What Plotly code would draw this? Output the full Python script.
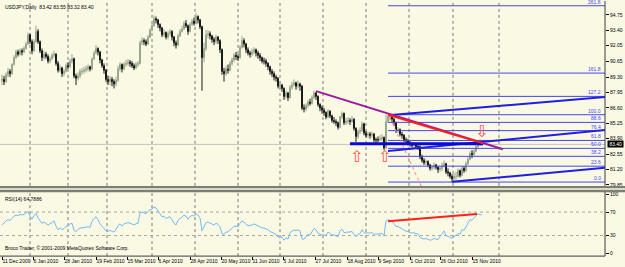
import plotly.graph_objects as go

# ---------------- data ----------------
closes = [
    89.1, 88.9, 89.5, 89.8, 89.6, 90.4, 91.0, 91.5, 91.3, 91.6,
    91.5, 91.8, 92.2, 93.0, 92.4, 91.6, 92.4, 93.3, 92.4, 91.6,
    91.0, 91.3, 91.1, 90.7, 90.9, 91.2, 91.3, 90.5, 89.9, 90.1,
    89.6, 89.8, 90.3, 90.2, 90.7, 90.9, 89.4, 89.2, 89.4, 89.8,
    89.8, 89.9, 90.0, 90.2, 90.0, 90.9, 91.4, 91.8, 91.5, 90.8,
    90.3, 89.9, 89.1, 88.9, 89.1, 88.9, 88.7, 89.0, 90.0, 90.4,
    90.0, 90.4, 90.5, 90.6, 90.5, 90.3, 90.1, 90.4, 90.5, 92.3,
    92.5, 92.4, 92.2, 92.8, 93.4, 93.8, 94.4, 94.3, 93.9, 93.6,
    93.0, 93.2, 92.8, 93.1, 93.3, 92.8, 92.3, 92.1, 92.9, 93.3,
    93.5, 94.0, 93.8, 93.3, 93.9, 94.2, 94.0, 94.6, 94.3, 93.7,
    91.0, 91.8, 93.0, 93.1, 92.9, 92.6, 92.4, 92.8, 92.5, 91.7,
    89.8, 89.6, 90.0, 89.9, 90.5, 90.8, 91.2, 91.1, 91.0, 91.9,
    92.5, 92.2, 91.7, 91.4, 91.3, 91.5, 91.7, 91.4, 91.2, 91.0,
    90.7, 90.7, 90.5, 90.2, 89.8, 89.6, 89.3, 89.2, 88.5, 88.6,
    88.3, 87.6, 87.9, 87.5, 88.4, 88.6, 88.8, 88.5, 88.7, 88.5,
    86.6, 86.5, 86.8, 87.1, 87.0, 87.5, 87.9, 87.6, 86.9, 86.6,
    86.4, 86.2, 85.8, 86.3, 85.9, 85.5, 85.4, 85.3, 84.9, 85.8,
    86.1, 85.3, 85.4, 85.5, 85.4, 85.6, 84.8, 84.1, 84.5, 84.6,
    85.2, 84.4, 84.2, 84.3, 84.2, 84.3, 83.8, 83.8, 83.8, 83.9,
    84.0, 83.1, 85.4, 85.8, 85.8, 85.6, 85.3, 84.6, 84.7, 84.3,
    84.2, 83.8, 83.7, 83.5, 83.4, 83.3, 83.4, 83.2, 83.2, 82.3,
    82.0, 81.8, 81.9, 81.6, 81.3, 81.4, 81.6, 81.4, 81.2, 81.3,
    81.5, 81.7, 81.0, 80.9, 80.6, 80.4, 80.6, 80.6, 81.1, 80.7,
    81.3, 81.1, 81.7, 82.1, 82.6, 82.5, 82.8, 83.2, 83.5, 83.42,
    83.40,
]
highs = [
    89.5, 89.4, 89.7, 90.1, 90.0, 90.5, 91.2, 91.7, 91.7, 91.8,
    91.8, 92.0, 92.4, 93.2, 93.1, 92.6, 92.6, 93.8, 93.5, 92.5,
    91.8, 91.6, 91.5, 91.3, 91.1, 91.4, 91.6, 91.4, 90.7, 90.4,
    90.2, 90.0, 90.5, 90.6, 90.9, 91.3, 91.0, 89.6, 89.7, 90.0,
    90.1, 90.2, 90.3, 90.4, 90.3, 91.0, 91.6, 92.1, 91.9, 91.6,
    90.9, 90.5, 90.0, 89.4, 89.4, 89.3, 89.1, 89.3, 90.3, 90.6,
    90.5, 90.6, 90.8, 90.9, 90.8, 90.7, 90.5, 90.6, 90.7, 92.5,
    92.8, 92.7, 92.6, 93.0, 93.6, 94.0, 94.7, 94.6, 94.4, 94.0,
    93.7, 93.5, 93.3, 93.3, 93.5, 93.4, 92.9, 92.5, 93.1, 93.5,
    93.8, 94.2, 94.3, 93.9, 94.1, 94.4, 94.5, 94.9, 94.7, 94.4,
    93.8, 92.3, 93.4, 93.4, 93.3, 93.0, 92.8, 93.0, 92.9, 92.6,
    91.8, 90.1, 90.3, 90.4, 90.7, 91.0, 91.4, 91.5, 91.3, 92.1,
    92.9, 92.7, 92.3, 91.9, 91.6, 91.8, 91.9, 91.8, 91.6, 91.4,
    91.1, 91.0, 90.9, 90.6, 90.3, 90.0, 89.8, 89.5, 89.3, 88.9,
    88.7, 88.4, 88.1, 88.0, 88.6, 88.9, 89.1, 88.9, 89.0, 88.8,
    88.6, 86.9, 87.0, 87.3, 87.4, 87.7, 88.1, 88.0, 87.7, 87.0,
    86.8, 86.6, 86.3, 86.5, 86.4, 86.0, 85.8, 85.6, 85.4, 85.9,
    86.3, 86.2, 85.7, 85.8, 85.7, 85.9, 85.7, 84.9, 84.7, 84.9,
    85.4, 85.3, 84.6, 84.5, 84.5, 84.5, 84.4, 84.0, 84.1, 84.2,
    84.3, 84.1, 86.0, 86.0, 86.0, 85.9, 85.7, 85.4, 84.9, 84.8,
    84.5, 84.3, 84.0, 83.9, 83.7, 83.6, 83.6, 83.5, 83.4, 83.3,
    82.5, 82.2, 82.1, 82.0, 81.7, 81.6, 81.8, 81.7, 81.5, 81.5,
    81.8, 82.0, 81.8, 81.3, 81.0, 80.8, 80.9, 81.0, 81.3, 81.2,
    81.5, 81.5, 81.9, 82.3, 82.8, 82.9, 83.0, 83.4, 83.7, 83.8,
    83.55,
]
lows = [
    88.6, 88.6, 88.8, 89.3, 89.3, 89.5, 90.3, 90.9, 91.1, 91.2,
    91.2, 91.4, 91.7, 92.1, 92.2, 91.3, 91.5, 92.3, 92.2, 91.4,
    90.7, 90.8, 90.9, 90.5, 90.5, 90.8, 91.0, 90.3, 89.7, 89.7,
    89.3, 89.4, 89.7, 90.0, 90.1, 90.5, 89.2, 88.6, 89.0, 89.2,
    89.5, 89.6, 89.7, 89.8, 89.8, 89.9, 90.8, 91.3, 91.2, 90.5,
    90.1, 89.6, 88.9, 88.6, 88.6, 88.5, 88.3, 88.5, 88.9, 89.8,
    89.7, 89.9, 90.2, 90.3, 90.2, 90.1, 89.9, 90.0, 90.2, 90.4,
    92.1, 92.1, 92.0, 92.1, 92.7, 93.3, 93.7, 94.0, 93.6, 93.3,
    92.8, 92.8, 92.6, 92.6, 92.9, 92.5, 92.0, 91.8, 92.0, 92.8,
    93.2, 93.4, 93.6, 93.0, 93.2, 93.8, 93.8, 93.9, 94.0, 93.5,
    88.1, 90.6, 91.6, 92.7, 92.6, 92.3, 92.1, 92.2, 92.2, 91.4,
    89.5, 88.9, 89.4, 89.6, 89.8, 90.3, 90.6, 90.8, 90.7, 90.9,
    91.8, 91.9, 91.4, 91.2, 91.0, 91.1, 91.3, 91.1, 90.9, 90.7,
    90.5, 90.4, 90.2, 89.9, 89.5, 89.3, 89.0, 88.9, 88.3, 88.2,
    88.0, 87.3, 87.4, 87.2, 87.4, 88.2, 88.5, 88.2, 88.3, 88.1,
    86.4, 86.2, 86.3, 86.6, 86.8, 86.9, 87.4, 87.3, 86.7, 86.3,
    86.1, 85.9, 85.6, 85.7, 85.7, 85.3, 85.2, 85.0, 84.7, 84.8,
    85.6, 85.1, 85.1, 85.2, 85.1, 85.3, 84.6, 83.6, 83.9, 84.3,
    84.5, 84.2, 84.0, 84.0, 83.9, 84.0, 83.6, 83.5, 83.6, 83.7,
    83.7, 82.9, 83.0, 85.3, 85.5, 85.3, 85.0, 84.4, 84.4, 84.1,
    83.9, 83.6, 83.5, 83.3, 83.2, 83.1, 83.1, 83.0, 82.9, 82.1,
    81.8, 81.6, 81.6, 81.4, 81.1, 81.1, 81.2, 81.2, 80.9, 81.0,
    81.1, 81.4, 80.8, 80.6, 80.4, 80.1, 80.2, 80.3, 80.5, 80.5,
    80.6, 80.9, 81.0, 81.6, 82.0, 82.2, 82.4, 82.7, 83.1, 83.3,
    83.32,
]
first_open = 89.0

rsi = [
    48, 52, 55, 57, 56, 59, 63, 65, 64, 66,
    65, 66, 68, 71, 63, 58, 64, 68, 60, 55,
    51, 53, 50, 48, 50, 53, 55, 46, 40, 43,
    40, 42, 46, 46, 50, 51, 39, 37, 40, 43,
    43, 44, 44, 45, 44, 54, 59, 62, 57, 50,
    46, 42, 38, 37, 39, 37, 36, 40, 47, 50,
    46, 50, 51, 52, 51, 49, 48, 50, 51, 68,
    70, 69, 67, 71, 74, 75, 79, 77, 72, 68,
    62, 63, 59, 61, 62, 57, 51, 48, 56, 59,
    61, 65, 63, 58, 62, 65, 63, 67, 65, 60,
    38, 44, 52, 53, 51, 50, 48, 51, 49, 45,
    33, 32, 36, 36, 40, 42, 46, 46, 45, 51,
    55, 53, 49, 47, 47, 48, 50, 48, 46, 45,
    43, 43, 42, 40, 37, 35, 33, 32, 27, 29,
    27, 22, 26, 24, 35, 38, 40, 38, 40, 38,
    24, 24, 28, 32, 31, 37, 42, 40, 34, 32,
    31, 30, 30, 36, 33, 31, 31, 30, 28, 38,
    41, 35, 36, 36, 36, 37, 32, 28, 32, 33,
    40, 35, 34, 35, 34, 35, 32, 32, 32, 33,
    34, 29, 55, 57, 56, 54, 51, 45, 46, 43,
    42, 39, 38, 36, 35, 34, 35, 33, 33, 27,
    25, 24, 25, 23, 22, 23, 25, 24, 23, 28,
    33, 38, 30, 29, 27, 25, 29, 30, 34, 32,
    40, 39, 46, 51, 57, 56, 60, 64, 67, 66,
    64.79,
]

price_ticks = [94.75, 93.40, 92.05, 90.65, 89.30, 87.95, 86.60, 85.25, 83.90, 82.55, 81.20, 79.85]
rsi_ticks = [0, 30, 70, 100]
date_labels = ["11 Dec 2009", "6 Jan 2010", "28 Jan 2010", "19 Feb 2010", "15 Mar 2010",
               "6 Apr 2010", "28 Apr 2010", "20 May 2010", "11 Jun 2010", "5 Jul 2010",
               "27 Jul 2010", "18 Aug 2010", "9 Sep 2010", "1 Oct 2010", "26 Oct 2010",
               "15 Nov 2010"]
date_label_bars = [0, 15.5, 31, 47, 62.5, 78, 94, 109.5, 125, 140.5, 156.5, 172.5, 188, 204, 219, 235]
month_grid_bars = [14, 33, 52.5, 75, 96.5, 118, 139, 160.5, 182, 203.5, 225.5, 248.5]

fib_low, fib_high, fib_start_bar = 80.10, 86.00, 193
fib_levels = [0.0, 23.6, 38.2, 50.0, 61.8, 76.4, 88.6, 100.0, 127.2, 161.8, 261.8]

# trend lines: (bar0, price0, bar1, price1)
channel_lines = [(193, 85.95, 301.5, 87.55), (193, 82.82, 301.5, 84.66), (225, 80.12, 301.5, 81.35)]
purple_line = (157, 88.07, 250.5, 82.97)
red_line = (193, 86.0, 240.5, 83.49)
red_dotted = (194, 85.74, 210, 79.6)
support_line = (174, 83.45, 240.5, 83.45)
rsi_red_line = (193, 54.5, 237.5, 66.9)
up_arrows = [(177, 82.36), (191, 82.36)]
down_arrows = [(239.5, 84.55)]
bid_price = 83.40
header_text = "USDJPY,Daily  83.42 83.55 83.32 83.40"
rsi_text = "RSI(14) 64.7886"
copyright_text = "Broco Trader, \u00a9 2001-2009 MetaQuotes Software Corp."

# ---------------- geometry ----------------
W, H = 625, 267
BG = "#F9F9E4"
XR = [-1, 301.5]
PLOT_R = 605
MAIN_TOP, MAIN_BOT = 0, 187
RSI_TOP, RSI_BOT = 193, 258
PRICE_RANGE = [95.963 - MAIN_BOT / 11.544, 95.963]
RSI_RANGE = [-(RSI_BOT - 255) / 0.593, 100 + (195.7 - RSI_TOP) / 0.593]


def py(p):
    return 1 - p / H


def px(p):
    return p / W


bars = list(range(len(closes)))
opens = [first_open] + closes[:-1]
highs_c = [max(h, o, c) for h, o, c in zip(highs, opens, closes)]
lows_c = [min(l, o, c) for l, o, c in zip(lows, opens, closes)]

fig = go.Figure()

fig.add_trace(go.Candlestick(
    x=bars, open=opens, high=highs_c, low=lows_c, close=closes,
    increasing=dict(line=dict(color="#98A68C", width=1), fillcolor="#B4C0AA"),
    decreasing=dict(line=dict(color="#1A1A1A", width=1), fillcolor="#1A1A1A"),
    whiskerwidth=0, hoverinfo="skip", xaxis="x", yaxis="y"))

FIB_COLOR = "#4646F0"
for lv in fib_levels:
    p = fib_low + (fib_high - fib_low) * lv / 100.0
    fig.add_trace(go.Scatter(x=[fib_start_bar, XR[1]], y=[p, p], mode="lines",
                             line=dict(color=FIB_COLOR, width=1), hoverinfo="skip"))
    fig.add_annotation(x=px(603), xref="paper", y=p, yref="y", text="%.1f" % lv,
                       showarrow=False, xanchor="right", yanchor="bottom", yshift=-1,
                       font=dict(size=5, color=FIB_COLOR, family="Liberation Sans"))

for (b0, p0, b1, p1) in channel_lines:
    fig.add_trace(go.Scatter(x=[b0, b1], y=[p0, p1], mode="lines",
                             line=dict(color="#1E1EE6", width=2), hoverinfo="skip"))

fig.add_trace(go.Scatter(x=[support_line[0], support_line[2]], y=[support_line[1], support_line[3]],
                         mode="lines", line=dict(color="#0A0AD2", width=3), hoverinfo="skip"))
fig.add_trace(go.Scatter(x=[red_dotted[0], red_dotted[2]], y=[red_dotted[1], red_dotted[3]],
                         mode="lines", line=dict(color="#FF8080", width=1, dash="dot"), hoverinfo="skip"))
fig.add_trace(go.Scatter(x=[purple_line[0], purple_line[2]], y=[purple_line[1], purple_line[3]],
                         mode="lines", line=dict(color="#9C1A9C", width=2), hoverinfo="skip"))
fig.add_trace(go.Scatter(x=[red_line[0], red_line[2]], y=[red_line[1], red_line[3]],
                         mode="lines", line=dict(color="#FF1E1E", width=2), hoverinfo="skip"))

# RSI
fig.add_trace(go.Scatter(x=bars, y=rsi, mode="lines", line=dict(color="#74BAF4", width=1),
                         hoverinfo="skip", xaxis="x2", yaxis="y2"))
fig.add_trace(go.Scatter(x=[rsi_red_line[0], rsi_red_line[2]], y=[rsi_red_line[1], rsi_red_line[3]],
                         mode="lines", line=dict(color="#FF2020", width=2), hoverinfo="skip",
                         xaxis="x2", yaxis="y2"))

for (b, p) in up_arrows:
    fig.add_annotation(x=b, y=p, xref="x", yref="y", text="\u21e7", showarrow=False,
                       font=dict(size=16, color="#FF5050", family="DejaVu Sans"))
for (b, p) in down_arrows:
    fig.add_annotation(x=b, y=p, xref="x", yref="y", text="\u21e9", showarrow=False,
                       font=dict(size=16, color="#FF5050", family="DejaVu Sans"))

shapes = []
GRID = "#7C7C74"
for gb in month_grid_bars:
    shapes.append(dict(type="line", xref="x", yref="paper", x0=gb, x1=gb, y0=py(MAIN_BOT), y1=py(MAIN_TOP),
                       line=dict(color=GRID, width=1, dash="dot"), layer="below"))
    shapes.append(dict(type="line", xref="x", yref="paper", x0=gb, x1=gb, y0=py(RSI_BOT), y1=py(RSI_TOP),
                       line=dict(color=GRID, width=1, dash="dot"), layer="below"))
for lv in [30, 70]:
    shapes.append(dict(type="line", xref="paper", yref="y2", x0=0, x1=px(PLOT_R), y0=lv, y1=lv,
                       line=dict(color="#A8A89C", width=1, dash="dot"), layer="below"))
# bid line
shapes.append(dict(type="line", xref="paper", yref="y", x0=0, x1=px(PLOT_R), y0=bid_price, y1=bid_price,
                   line=dict(color="#C4C4BC", width=1), layer="below"))
# separators
SEP = "#7E7E72"
shapes.append(dict(type="rect", xref="paper", yref="paper", x0=0, x1=1, y0=py(189.5), y1=py(187),
                   fillcolor=SEP, line=dict(width=0)))
shapes.append(dict(type="rect", xref="paper", yref="paper", x0=0, x1=1, y0=py(193.5), y1=py(191),
                   fillcolor=SEP, line=dict(width=0)))
# axis frame lines
shapes.append(dict(type="line", xref="paper", yref="paper", x0=px(PLOT_R), x1=px(PLOT_R), y0=py(MAIN_BOT), y1=1,
                   line=dict(color="#3C3C3C", width=1)))
shapes.append(dict(type="line", xref="paper", yref="paper", x0=px(PLOT_R), x1=px(PLOT_R), y0=py(RSI_BOT), y1=py(RSI_TOP),
                   line=dict(color="#3C3C3C", width=1)))
shapes.append(dict(type="line", xref="paper", yref="paper", x0=0, x1=px(PLOT_R), y0=py(RSI_BOT), y1=py(RSI_BOT),
                   line=dict(color="#3C3C3C", width=1)))

TXT = dict(size=5, color="#000000", family="Liberation Sans")
fig.add_annotation(x=px(3), y=py(1), xref="paper", yref="paper", text=header_text, showarrow=False,
                   xanchor="left", yanchor="top", font=TXT)
fig.add_annotation(x=px(3), y=py(195), xref="paper", yref="paper", text=rsi_text, showarrow=False,
                   xanchor="left", yanchor="top", font=TXT)
fig.add_annotation(x=px(3), y=py(255), xref="paper", yref="paper", text=copyright_text, showarrow=False,
                   xanchor="left", yanchor="bottom", font=TXT)
fig.add_annotation(x=px(607), y=bid_price, xref="paper", yref="y", text=" %.2f " % bid_price, showarrow=False,
                   xanchor="left", yanchor="middle", bgcolor="#000000", borderpad=0,
                   font=dict(size=5, color="#FFFFFF", family="Liberation Sans"))

fig.update_layout(
    width=W, height=H, margin=dict(l=0, r=0, t=0, b=0),
    paper_bgcolor=BG, plot_bgcolor=BG, showlegend=False, shapes=shapes,
    xaxis=dict(domain=[0, px(PLOT_R)], range=XR, visible=False, rangeslider=dict(visible=False),
               showgrid=False, zeroline=False),
    yaxis=dict(domain=[py(MAIN_BOT), py(MAIN_TOP)], range=PRICE_RANGE, side="right", anchor="x",
               tickvals=price_ticks, ticktext=["%.2f" % t for t in price_ticks],
               ticks="outside", ticklen=3, tickcolor="#000000", tickfont=TXT,
               showgrid=False, zeroline=False, showline=False),
    xaxis2=dict(domain=[0, px(PLOT_R)], range=XR, anchor="y2", tickvals=date_label_bars, ticktext=date_labels,
                ticks="outside", ticklen=3, tickcolor="#000000", tickfont=TXT, tickangle=0,
                ticklabelposition="outside right",
                showgrid=False, zeroline=False, showline=False),
    yaxis2=dict(domain=[py(RSI_BOT), py(RSI_TOP)], range=RSI_RANGE, side="right", anchor="x2",
                tickvals=rsi_ticks, ticks="outside", ticklen=3, tickcolor="#000000", tickfont=TXT,
                showgrid=False, zeroline=False, showline=False),
)

fig.write_html("out.html")
